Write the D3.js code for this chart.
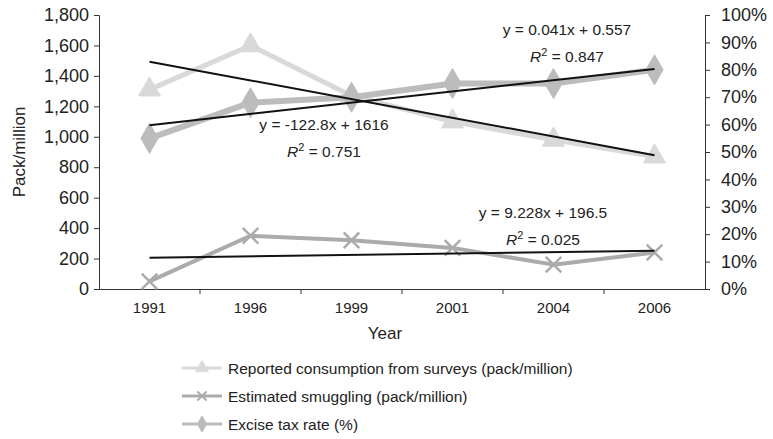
<!DOCTYPE html>
<html><head><meta charset="utf-8">
<script src="https://cdn.jsdelivr.net/npm/d3@7"></script>
<style>
html,body{margin:0;padding:0;background:#fff;}
svg{display:block;font-family:"Liberation Sans",Arial,sans-serif;}
</style></head>
<body><svg id="c" width="773" height="439"></svg>
<script>
const years = ["1991","1996","1999","2001","2004","2006"];
const consumption = [1310, 1600, 1270, 1100, 980, 870];
const smuggling = [50, 350, 320, 270, 160, 240];
const taxRate = [0.55, 0.68, 0.70, 0.75, 0.75, 0.80];
const leftTicks = [0,200,400,600,800,1000,1200,1400,1600,1800];
const rightTicks = [0,0.1,0.2,0.3,0.4,0.5,0.6,0.7,0.8,0.9,1.0];
// trend lines: slope, intercept (x = 1..6)
const trendConsumption = [-122.8, 1616];
const trendSmuggling = [9.228, 196.5];
const trendTax = [0.041, 0.557];
const labelsConsumption = ["y = -122.8x + 1616", "0.751"];
const labelsSmuggling = ["y = 9.228x + 196.5", "0.025"];
const labelsTax = ["y = 0.041x + 0.557", "0.847"];
const legendNames = ["Reported consumption from surveys (pack/million)", "Estimated smuggling (pack/million)", "Excise tax rate (%)"];

const svg = d3.select("#c");
const L = 99, R = 705, T = 15, B = 289;
const x = d3.scaleBand().domain(years).range([L, R]).padding(0);
const yL = d3.scaleLinear().domain([0,1800]).range([B, T]);
const yR = d3.scaleLinear().domain([0,1]).range([B, T]);
const cx = d => x(d) + x.bandwidth()/2;

const cCons = "#d9d9d9", cSmug = "#ababab", cTax = "#bcbcbc";

// axes
const gl = svg.append("g").attr("transform", `translate(${L},0)`)
  .call(d3.axisLeft(yL).tickValues(leftTicks).tickSize(5).tickPadding(5).tickFormat(d3.format(",")));
const gr = svg.append("g").attr("transform", `translate(${R},0)`)
  .call(d3.axisRight(yR).tickValues(rightTicks).tickSize(5).tickPadding(11).tickFormat(d3.format(".0%")));
[gl, gr].forEach(g => {
  g.selectAll("text").attr("font-size", 18).attr("fill", "#222");
  g.selectAll("line,path").attr("stroke", "#333");
});
const gx = svg.append("g").attr("transform", `translate(0,${B})`)
  .call(d3.axisBottom(x).tickSize(0).tickPadding(13));
gx.selectAll("text").attr("font-size", 15).attr("fill", "#222");
gx.select("path").attr("stroke", "#333");
// band boundary ticks
svg.append("g").selectAll("line").data(years.slice(1)).join("line")
  .attr("x1", d => x(d)).attr("x2", d => x(d)).attr("y1", B).attr("y2", B+5).attr("stroke", "#333");

svg.append("text").attr("x", 385).attr("y", 339).attr("text-anchor", "middle")
  .attr("font-size", 17).attr("fill", "#222").text("Year");
svg.append("text").attr("transform", "translate(25,152) rotate(-90)").attr("text-anchor", "middle")
  .attr("font-size", 17).attr("fill", "#222").text("Pack/million");

// series
const line = (ys, vals) => d3.line().x((d,i) => cx(years[i])).y(d => ys(d))(vals);
const sym = (type, size) => d3.symbol().type(type).size(size)();

function drawSeries(vals, ys, color, width, type, size, sw) {
  svg.append("path").attr("d", line(ys, vals)).attr("fill", "none")
    .attr("stroke", color).attr("stroke-width", width).attr("stroke-linejoin", "round");
  svg.append("g").selectAll("path").data(vals).join("path")
    .attr("transform", (d,i) => `translate(${cx(years[i])},${ys(d)})`)
    .attr("d", sym(type, size))
    .attr("fill", type === d3.symbolX ? "none" : color)
    .attr("stroke", color).attr("stroke-width", sw);
}
drawSeries(consumption, yL, cCons, 5, d3.symbolTriangle, 210, 1);
drawSeries(taxRate, yR, cTax, 6, d3.symbolDiamond, 260, 1);
drawSeries(smuggling, yL, cSmug, 4, d3.symbolX, 160, 2.5);

// trend lines
function trend(coef, ys) {
  const pts = [1, years.length].map(k => [cx(years[k-1]), ys(coef[0]*k + coef[1])]);
  svg.append("line").attr("x1", pts[0][0]).attr("y1", pts[0][1])
    .attr("x2", pts[1][0]).attr("y2", pts[1][1]).attr("stroke", "#111").attr("stroke-width", 2);
}
trend(trendConsumption, yL);
trend(trendTax, yR);
trend(trendSmuggling, yL);

function eqLabel(lbl, x0, y0) {
  svg.append("text").attr("x", x0).attr("y", y0).attr("text-anchor", "middle")
    .attr("font-size", 15.5).attr("fill", "#222").text(lbl[0]);
  const t = svg.append("text").attr("x", x0).attr("y", y0 + 27).attr("text-anchor", "middle")
    .attr("font-size", 15.5).attr("fill", "#222");
  t.append("tspan").attr("font-style", "italic").text("R");
  t.append("tspan").attr("font-size", 11).attr("dy", -6).text("2");
  t.append("tspan").attr("dy", 6).text(" = " + lbl[1]);
}
eqLabel(labelsTax, 567, 35);
eqLabel(labelsConsumption, 324, 130);
eqLabel(labelsSmuggling, 543, 218);

// legend
const legY = [368, 396, 424];
const legStyles = [
  [cCons, 3, d3.symbolTriangle, 70, 1],
  [cSmug, 3, d3.symbolX, 55, 2],
  [cTax, 3, d3.symbolDiamond, 75, 1]
];
legendNames.forEach((n, i) => {
  const [c, w, type, size, sw] = legStyles[i];
  const y0 = legY[i];
  svg.append("line").attr("x1", 182).attr("x2", 222).attr("y1", y0).attr("y2", y0)
    .attr("stroke", c).attr("stroke-width", w);
  svg.append("path").attr("transform", `translate(202,${y0})`).attr("d", sym(type, size))
    .attr("fill", type === d3.symbolX ? "none" : c).attr("stroke", c).attr("stroke-width", sw);
  svg.append("text").attr("x", 228).attr("y", y0 + 5.5).attr("font-size", 15.5).attr("fill", "#222").text(n);
});
</script></body></html>
